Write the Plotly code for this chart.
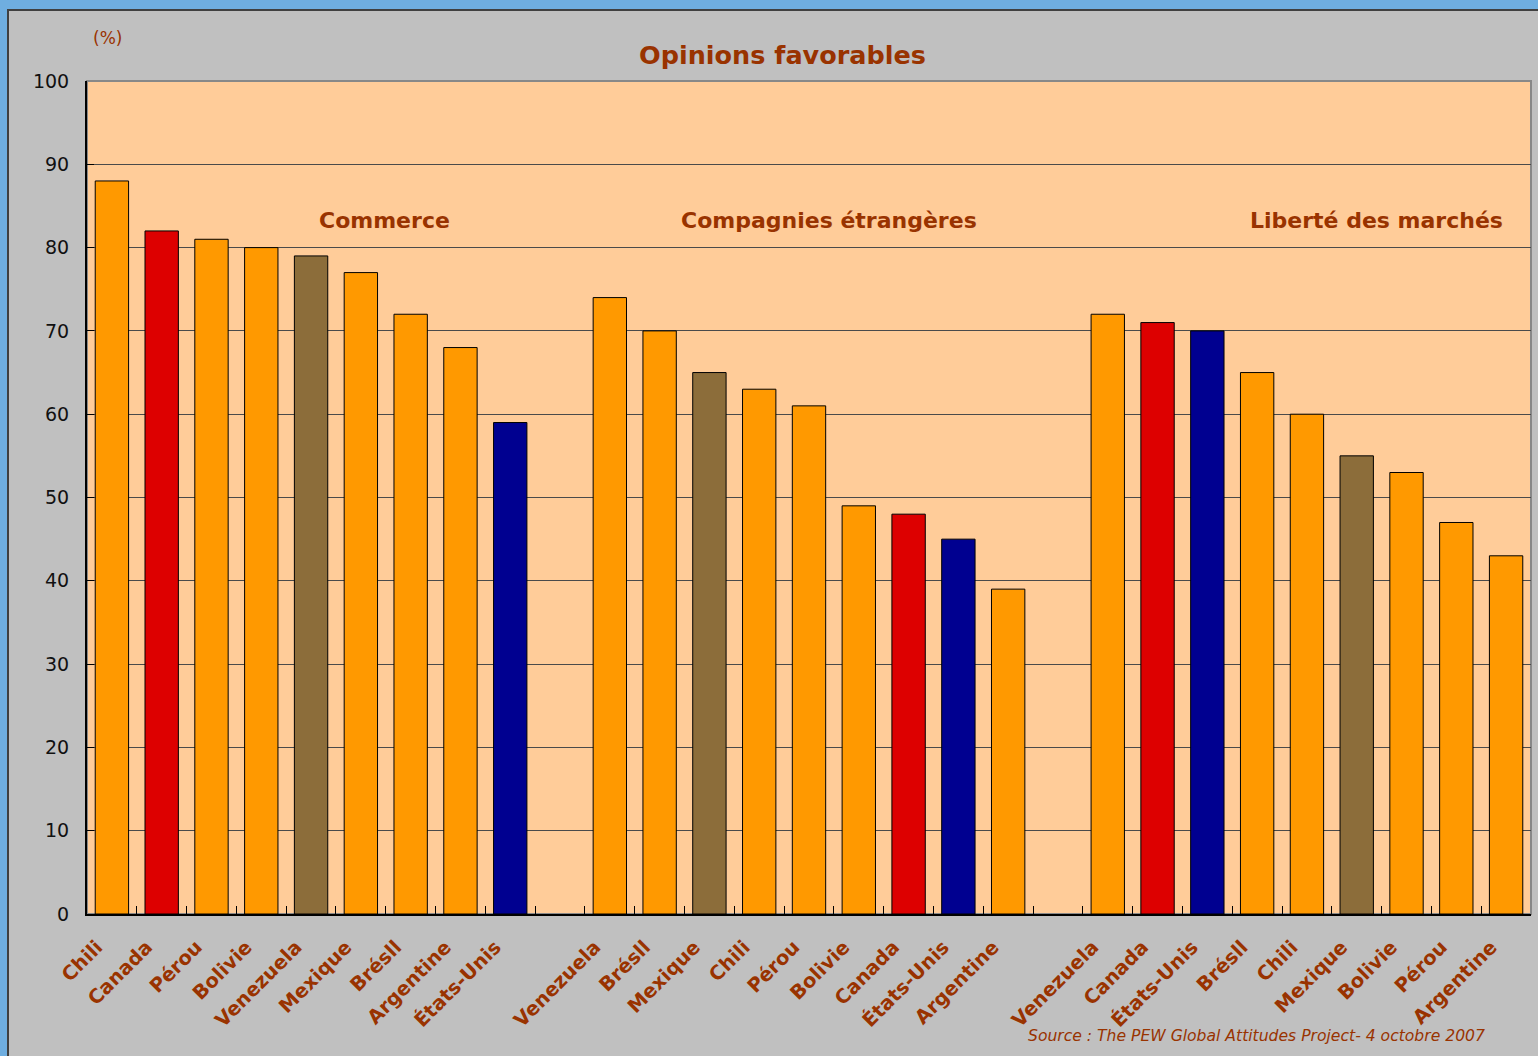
import plotly.graph_objects as go

# ---- data ----
commerce_countries = ["Chili", "Canada", "Pérou", "Bolivie", "Venezuela", "Mexique", "Brésll", "Argentine", "États-Unis"]
commerce_values = [88, 82, 81, 80, 79, 77, 72, 68, 59]
commerce_colors = ["#FF9900", "#DD0000", "#FF9900", "#FF9900", "#8C6D3A", "#FF9900", "#FF9900", "#FF9900", "#000090"]

compagnies_countries = ["Venezuela", "Brésll", "Mexique", "Chili", "Pérou", "Bolivie", "Canada", "États-Unis", "Argentine"]
compagnies_values = [74, 70, 65, 63, 61, 49, 48, 45, 39]
compagnies_colors = ["#FF9900", "#FF9900", "#8C6D3A", "#FF9900", "#FF9900", "#FF9900", "#DD0000", "#000090", "#FF9900"]

liberte_countries = ["Venezuela", "Canada", "États-Unis", "Brésll", "Chili", "Mexique", "Bolivie", "Pérou", "Argentine"]
liberte_values = [72, 71, 70, 65, 60, 55, 53, 47, 43]
liberte_colors = ["#FF9900", "#DD0000", "#000090", "#FF9900", "#FF9900", "#8C6D3A", "#FF9900", "#FF9900", "#FF9900"]

group_names = ["Commerce", "Compagnies étrangères", "Liberté des marchés"]
y_ticks = [0, 10, 20, 30, 40, 50, 60, 70, 80, 90, 100]

title_text = "Opinions favorables"
unit_text = "(%)"
source_text = "Source : The PEW Global Attitudes Project- 4 octobre 2007"

BROWN = "#993300"
FONT = "DejaVu Sans"

groups = [
    (commerce_countries, commerce_values, commerce_colors),
    (compagnies_countries, compagnies_values, compagnies_colors),
    (liberte_countries, liberte_values, liberte_colors),
]

xs, ys, cols, labels = [], [], [], []
for g, (names, vals, colors) in enumerate(groups):
    for i, (n, v, c) in enumerate(zip(names, vals, colors)):
        xs.append(g * 10 + i)
        ys.append(v)
        cols.append(c)
        labels.append(n)

n_slots = 29
boundaries = [k - 0.5 for k in range(n_slots + 1)]
label_shift = 0.3  # rotated labels end slightly left of the bar centre
label_pos = [x - label_shift for x in xs]

W, H = 1538, 1056
L, R, T, B = 87, 7, 81, 142
PW, PH = W - L - R, H - T - B

fig = go.Figure()
fig.add_trace(go.Bar(
    x=xs, y=ys, width=0.67,
    marker=dict(color=cols, line=dict(color="#000000", width=1)),
    showlegend=False, hoverinfo="skip",
))
fig.add_trace(go.Scatter(x=[-0.5, 28.5], y=[0, 0], xaxis="x2", mode="lines",
                         line=dict(width=0), showlegend=False, hoverinfo="skip"))

fig.update_layout(
    width=W, height=H,
    margin=dict(l=L, r=R, t=T, b=B, autoexpand=False),
    paper_bgcolor="#6FAEE0",
    plot_bgcolor="rgba(0,0,0,0)",
    xaxis=dict(
        range=[-0.5, 28.5], tickvals=label_pos, ticktext=labels, ticks="",
        tickangle=-45, showgrid=False, zeroline=False, automargin=False,
        showline=True, linecolor="#000000", linewidth=2,
        tickfont=dict(family=FONT, size=19.5, color=BROWN, weight="bold"),
        ticklabelstandoff=12,
    ),
    xaxis2=dict(
        range=[-0.5, 28.5], overlaying="x", side="bottom", anchor="y",
        tickvals=boundaries, ticks="inside", ticklen=8, tickcolor="#000000",
        tickwidth=1, showticklabels=False, showgrid=False, zeroline=False,
        showline=False, automargin=False,
    ),
    yaxis=dict(
        range=[0, 100], tickvals=y_ticks, ticks="inside", ticklen=7,
        tickcolor="#000000", showgrid=True, gridcolor="#4a4a4a", gridwidth=1,
        zeroline=False, showline=True, linecolor="#000000", linewidth=2,
        automargin=False, ticklabelstandoff=12,
        tickfont=dict(family=FONT, size=19, color="#111111"),
    ),
    shapes=[
        dict(type="rect", xref="paper", yref="paper", x0=-(L - 8) / PW, x1=1.05,
             y0=-0.3, y1=1 + (T - 10) / PH,
             fillcolor="#C0C0C0", line=dict(color="#404040", width=2), layer="below"),
        dict(type="rect", xref="x domain", yref="y domain", x0=0, x1=1, y0=0, y1=1,
             fillcolor="#FFCC99", line=dict(color="#888888", width=2), layer="below"),
    ],
    annotations=[
        dict(text=title_text, xref="paper", yref="paper", x=(782 - L) / PW, y=1 + (T - 55) / PH,
             showarrow=False, xanchor="center", yanchor="middle",
             font=dict(family=FONT, size=25.5, color=BROWN, weight="bold")),
        dict(text=unit_text, xref="paper", yref="paper", x=(107 - L) / PW, y=1 + (T - 38) / PH,
             showarrow=False, xanchor="center", yanchor="middle",
             font=dict(family=FONT, size=17, color=BROWN)),
        dict(text=group_names[0], xref="x", yref="y", x=5.47, y=83.3,
             showarrow=False, xanchor="center", yanchor="middle",
             font=dict(family=FONT, size=22, color=BROWN, weight="bold")),
        dict(text=group_names[1], xref="x", yref="y", x=14.4, y=83.3,
             showarrow=False, xanchor="center", yanchor="middle",
             font=dict(family=FONT, size=22, color=BROWN, weight="bold")),
        dict(text=group_names[2], xref="x", yref="y", x=25.4, y=83.3,
             showarrow=False, xanchor="center", yanchor="middle",
             font=dict(family=FONT, size=22, color=BROWN, weight="bold")),
        dict(text=source_text, xref="paper", yref="paper", x=(1487 - L) / PW, y=-(1036 - 914) / PH,
             showarrow=False, xanchor="right", yanchor="middle",
             font=dict(family=FONT, size=15.6, color=BROWN, style="italic")),
    ],
)

fig.write_html(
    "out.html",
    config={"displayModeBar": False},
    post_script="document.body.style.margin='0';document.body.style.background='#6FAEE0';",
)
